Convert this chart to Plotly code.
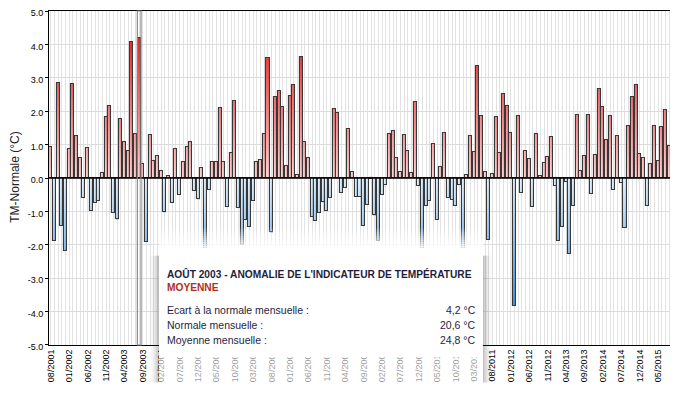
import numpy as np
import pandas as pd
import plotly.graph_objects as go

# ---------------- data ----------------
months = list(pd.period_range("2001-08", periods=169, freq="M").strftime("%m/%Y"))

anomaly = [
    0.93, -1.88, 2.84, -1.44, -2.18, 0.87, 2.81, 1.26, 0.60, -0.60,
    0.90, -0.99, -0.75, -0.69, 0.15, 1.82, 2.17, -1.05, -1.23, 1.76,
    1.07, 0.81, 4.07, 1.32, 4.20, 0.42, -1.91, 1.29, 0.51, 0.66,
    0.21, -1.02, 0.07, -0.75, 0.88, -0.50, 0.48, 0.93, 1.08, -0.39,
    -0.63, 0.30, -2.40, -0.36, 0.48, 0.48, 2.09, 0.48, -0.87, 0.75,
    2.30, -0.89, -2.00, -1.26, -1.47, -0.69, 0.48, 0.54, 1.32, 3.58,
    -1.62, 2.42, 2.60, 2.12, 0.36, 2.45, 2.78, 0.09, 3.62, 1.08,
    0.60, -1.18, -1.30, -1.05, -0.72, -0.99, -0.60, 2.06, 1.94, -0.45,
    -0.30, 1.47, 0.18, -0.57, -0.57, -1.44, -0.80, -0.04, -1.11, -1.88,
    -0.50, -0.21, 1.32, 1.41, 0.60, 0.18, 1.29, 0.81, 0.15, 2.28,
    -0.24, -2.40, -0.84, -0.69, 1.02, -1.26, 0.34, 1.35, -0.60, -0.66,
    -0.84, -0.22, -2.50, 0.09, 1.26, 0.78, 3.36, 1.85, 0.18, -1.85,
    0.12, 1.82, 0.75, 2.51, 2.15, 1.35, -3.82, 1.85, -0.45, 0.81,
    0.57, -0.87, 1.32, 0.07, 0.45, 0.63, 1.23, -0.24, -1.88, -1.47,
    -0.12, -2.27, -0.84, 1.88, 0.21, 0.66, 1.88, -0.48, 0.69, 2.66,
    2.12, 1.14, 1.85, -0.36, 1.26, -0.15, -1.50, 1.56, 2.42, 2.78,
    0.72, 0.60, -0.84, 0.42, 1.56, 0.51, 1.53, 2.03, 0.96,
]
tick_labels = months[::5]
y_ticks = [-5, -4, -3, -2, -1, 0, 1, 2, 3, 4, 5]

tooltip_title = "AOÛT 2003 - ANOMALIE DE L'INDICATEUR DE TEMPÉRATURE"
tooltip_sub = "MOYENNE"
tooltip_rows = ["Ecart à la normale mensuelle :", "Normale mensuelle :", "Moyenne mensuelle :"]
tooltip_vals = ["4,2 °C", "20,6 °C", "24,8 °C"]
highlight_month = "08/2003"

# ---------------- style ----------------
OFF = 8                      # page body margin
W, H = 678 - OFF, 396 - OFF
PX0, PX1, PY0, PY1 = 49, 671, 11, 345.5   # plot area in window pixels
L, T = PX0 - OFF, PY0 - OFF
R, B = W - (PX1 - OFF), H - (PY1 - OFF)
PW, PH = W - L - R, H - T - B
FONT = "Liberation Sans, Arial, sans-serif"

POS0, POS1 = np.array([255, 208, 208]), np.array([238, 38, 38])
NEG0, NEG1 = np.array([224, 241, 253]), np.array([58, 142, 222])


def mix(c0, c1, t):
    t = min(max(t, 0), 1)
    c = c0 + (c1 - c0) * t
    return "rgb(%d,%d,%d)" % tuple(np.round(c))


def px(x):
    return (x - PX0) / PW


def py(y):
    return 1 - (y - PY0) / PH


vals = np.array(anomaly)
cats = np.array(months)
BW = 0.82
d = 0.1
ov = 0.06

fig = go.Figure()

nk = int(np.ceil(vals.max() / d))
for k in range(nk):
    lo = k * d
    m = vals > lo + 1e-9
    if not m.any():
        continue
    hi = np.minimum(vals[m], lo + d + ov)
    fig.add_trace(go.Bar(x=cats[m], y=hi - lo, base=[lo] * int(m.sum()), width=BW,
                         marker=dict(color=mix(POS0, POS1, (lo + d / 2) / 4.2), line=dict(width=0)),
                         hoverinfo="skip", showlegend=False))
nk = int(np.ceil(-vals.min() / d))
for k in range(nk):
    lo = -k * d
    m = vals < lo - 1e-9
    if not m.any():
        continue
    hi = np.maximum(vals[m], lo - d - ov)
    fig.add_trace(go.Bar(x=cats[m], y=hi - lo, base=[lo] * int(m.sum()), width=BW,
                         marker=dict(color=mix(NEG0, NEG1, (-lo + d / 2) / 4.0), line=dict(width=0)),
                         hoverinfo="skip", showlegend=False))
fig.add_trace(go.Bar(x=cats, y=vals, width=BW,
                     marker=dict(color="rgba(0,0,0,0)", line=dict(color="#383838", width=1.1)),
                     showlegend=False))

shapes = []
shapes.append(dict(type="line", xref="paper", yref="y", x0=0, x1=1, y0=0, y1=0,
                   line=dict(color="black", width=1.3), layer="above"))
hi_idx = months.index(highlight_month)
shapes.append(dict(type="rect", xref="x", yref="paper", x0=hi_idx - 0.5, x1=hi_idx + 0.5, y0=0, y1=1,
                   line=dict(color="#8a8a8a", width=1.2), fillcolor="rgba(0,0,0,0)", layer="above"))

bx0, bx1, by0, by1 = 159, 483, 248, 358
n = 10
for i in range(n):
    y0 = 228 + i * 2
    shapes.append(dict(type="rect", xref="paper", yref="paper", x0=px(bx0), x1=px(bx1),
                       y0=py(y0), y1=py(y0 + 2), fillcolor="white", opacity=(i + 1) / (n + 1),
                       line=dict(width=0), layer="above"))
for i in range(6):
    a = 0.10 * (6 - i) / 6
    shapes.append(dict(type="rect", xref="paper", yref="paper", x0=px(bx0 - 1 - 1.6 * i), x1=px(bx0),
                       y0=py(by0 + 8), y1=py(by1 + 25), fillcolor="rgba(60,60,60,%.3f)" % a,
                       line=dict(width=0), layer="above"))
    shapes.append(dict(type="rect", xref="paper", yref="paper", x0=px(bx1), x1=px(bx1 + 1 + 1.6 * i),
                       y0=py(by0 + 8), y1=py(by1 + 25), fillcolor="rgba(60,60,60,%.3f)" % a,
                       line=dict(width=0), layer="above"))
shapes.append(dict(type="rect", xref="paper", yref="paper", x0=px(bx0), x1=px(bx1),
                   y0=py(by0), y1=py(by1), fillcolor="white", line=dict(width=0), layer="above"))
shapes.append(dict(type="rect", xref="paper", yref="paper", x0=px(bx0), x1=px(bx1),
                   y0=py(by1), y1=py(396), fillcolor="rgba(255,255,255,0.6)", line=dict(width=0), layer="above"))

ann = []
ann.append(dict(text="TM-Normale (°C)", textangle=-90, xref="paper", yref="paper",
                x=px(15), y=py(178), showarrow=False, font=dict(family=FONT, size=12, color="#222"),
                xanchor="center", yanchor="middle"))
ann.append(dict(text="<b>%s</b>" % tooltip_title, xref="paper", yref="paper", x=px(165), y=py(274),
                xanchor="left", yanchor="middle", showarrow=False,
                font=dict(family=FONT, size=10.2, color="#1e1e3c")))
ann.append(dict(text="<b>%s</b>" % tooltip_sub, xref="paper", yref="paper", x=px(165), y=py(288),
                xanchor="left", yanchor="middle", showarrow=False,
                font=dict(family=FONT, size=10.2, color="#b03020")))
row_y = [310, 325, 340]
for lab, v, yy in zip(tooltip_rows, tooltip_vals, row_y):
    ann.append(dict(text=lab, xref="paper", yref="paper", x=px(165), y=py(yy), xanchor="left",
                    yanchor="middle", showarrow=False, font=dict(family=FONT, size=10.5, color="#1e1e3c")))
    ann.append(dict(text=v, xref="paper", yref="paper", x=px(478), y=py(yy), xanchor="right",
                    yanchor="middle", showarrow=False, font=dict(family=FONT, size=10.5, color="#1e1e3c")))

fig.update_layout(
    width=W, height=H, margin=dict(l=L, r=R, t=T, b=B, autoexpand=False),
    paper_bgcolor="white", plot_bgcolor="white", barmode="overlay", bargap=0,
    shapes=shapes, annotations=ann, font=dict(family=FONT, size=9, color="black"),
)
fig.update_xaxes(type="category", categoryorder="array", categoryarray=months,
                 tickmode="array", tickvals=months,
                 ticktext=[m if m in tick_labels else "" for m in months],
                 tickangle=-90, tickfont=dict(size=9, family=FONT, color="black"),
                 showgrid=True, gridcolor="#e2e2e2", gridwidth=1,
                 showline=True, linecolor="black", linewidth=1, mirror=True,
                 ticks="", range=[-0.5, len(months) - 0.5], automargin=False)
fig.update_yaxes(range=[-5.0005, 5.0005], tickmode="array", tickvals=y_ticks,
                 ticktext=["%.1f" % v for v in y_ticks], ticklabeloverflow="allow",
                 ticklabelshift=2,
                 tickfont=dict(size=9, family=FONT, color="black"),
                 showgrid=True, gridcolor="#dcdcdc", gridwidth=1, zeroline=False,
                 showline=True, linecolor="black", linewidth=1, mirror=True,
                 ticks="outside", ticklen=3, tickcolor="black", automargin=False)

fig.write_html("out.html")
